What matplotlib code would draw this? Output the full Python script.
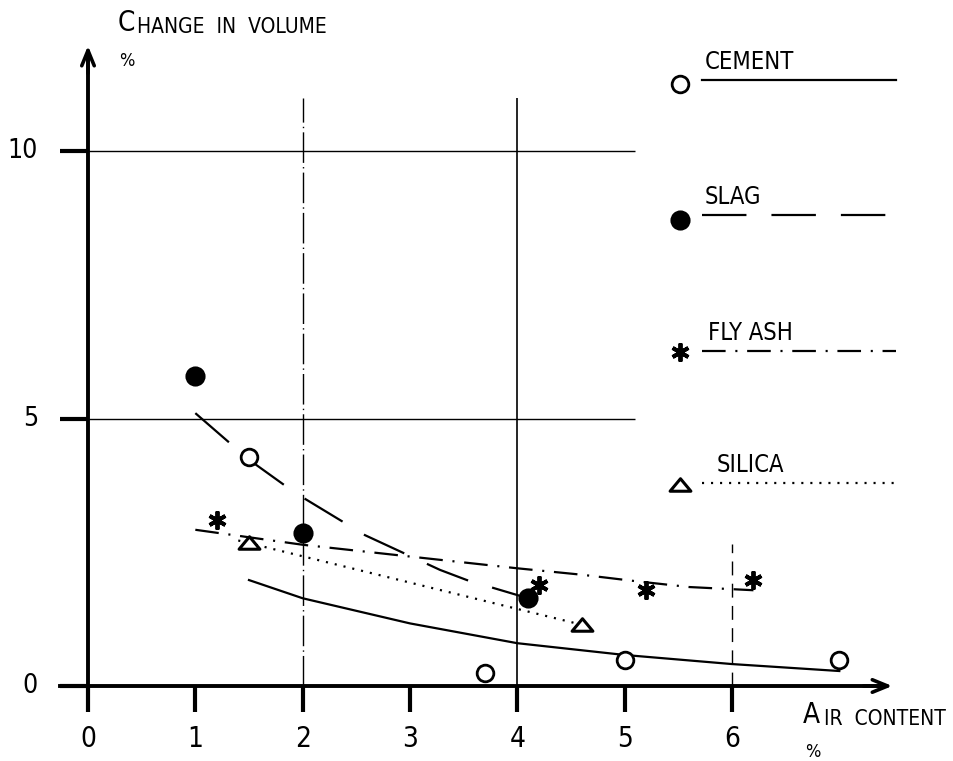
import matplotlib
matplotlib.use("Agg")
import matplotlib.pyplot as plt
from matplotlib.lines import Line2D
from matplotlib.path import Path

plt.rcParams["font.family"] = ["DejaVu Sans"]
plt.rcParams["font.stretch"] = "condensed"
plt.rcParams["font.weight"] = "light"
plt.rcParams["lines.scale_dashes"] = False

# measured samples
cement_x = [1.5, 3.7, 5.0, 7.0]
cement_y = [4.28, 0.24, 0.49, 0.49]
slag_x = [1.0, 2.0, 4.1]
slag_y = [5.79, 2.86, 1.64]
flyash_x = [1.2, 4.2, 5.2, 6.2]
flyash_y = [3.10, 1.89, 1.79, 1.98]
silica_x = [1.5, 4.6]
silica_y = [2.67, 1.14]

# hand-fitted trend lines
cement_fit_x = [1.5, 2.0, 3.0, 4.0, 5.0, 6.0, 7.0]
cement_fit_y = [1.98, 1.64, 1.17, 0.80, 0.58, 0.41, 0.28]
slag_fit_x = [1.0, 1.5, 1.93, 2.58, 3.28, 3.53, 4.1]
slag_fit_y = [5.10, 4.23, 3.61, 2.82, 2.17, 1.98, 1.64]
flyash_fit_x = [1.0, 2.0, 4.0, 4.6, 5.1, 5.6, 6.2]
flyash_fit_y = [2.92, 2.64, 2.20, 2.08, 1.96, 1.85, 1.79]
silica_fit_x = [1.4, 4.55]
silica_fit_y = [2.72, 1.17]

series_names = ["CEMENT", "SLAG", "FLY ASH", "SILICA"]
x_ticks = [0, 1, 2, 3, 4, 5, 6]
y_ticks = [0, 5, 10]

W, H = 954, 761
PX_X = 107.33   # pixels per % air
PX_Y = 53.5     # pixels per % volume
X0, Y0 = 88, 686

# flattened triangle marker, centred on the point
tri = Path([(-1.0, -0.55), (1.0, -0.55), (0.0, 0.65), (-1.0, -0.55)],
           [Path.MOVETO, Path.LINETO, Path.LINETO, Path.CLOSEPOLY])

styles = [
    dict(marker="o", mfc="white", ms=12, mew=2.0, ls="-"),
    dict(marker="o", mfc="black", ms=13, mew=1.5, ls=(0, (32, 18))),
    dict(marker=(6, 2, 0), mfc="black", ms=13, mew=2.8, ls=(0, (17, 7, 1.5, 7))),
    dict(marker=tri, mfc="white", ms=15, mew=2.2, ls=(0, (1.5, 5))),
]

fig = plt.figure(figsize=(W / 100, H / 100), dpi=100)
ax = fig.add_axes([0, 0, 1, 1])
ax.set_xlim(-X0 / PX_X, (W - X0) / PX_X)
ax.set_ylim(-(H - Y0) / PX_Y, Y0 / PX_Y)

# axes as arrows through the origin
for side in ["top", "right"]:
    ax.spines[side].set_visible(False)
ax.spines["left"].set_position(("data", 0))
ax.spines["bottom"].set_position(("data", 0))
ax.spines["left"].set_bounds(0, 11.8)
ax.spines["bottom"].set_bounds(-0.26, 7.4)
for side in ["left", "bottom"]:
    ax.spines[side].set_linewidth(2.8)
ax.annotate("", xy=(7.52, 0), xytext=(7.2, 0),
            arrowprops=dict(arrowstyle="->,head_length=1.1,head_width=0.45",
                            lw=2.6, color="black"))
ax.annotate("", xy=(0, 12.02), xytext=(0, 11.4),
            arrowprops=dict(arrowstyle="->,head_length=1.1,head_width=0.45",
                            lw=2.6, color="black"))

ax.set_xticks(x_ticks)
ax.set_yticks(y_ticks)
ax.set_xticklabels([str(t) for t in x_ticks], fontsize=20)
ax.set_yticklabels([str(t) for t in y_ticks], fontsize=19)
ax.tick_params(axis="x", direction="out", length=19, width=3, pad=9)
ax.tick_params(axis="y", direction="out", length=20, width=3, pad=16)
for lbl in ax.get_yticklabels():
    lbl.set_verticalalignment("center")

# reference lines
ax.hlines([5, 10], -0.26, 5.1, color="black", lw=1.0)
ax.vlines(2, 0, 11.0, color="black", lw=1.0, linestyles=[(0, (22, 3, 1, 3))])
ax.vlines(4, 0, 11.0, color="black", lw=1.2)
ax.vlines(6, 0, 2.65, color="black", lw=1.0, linestyles=[(0, (10, 6))])

# trend lines and samples
fits = [(cement_fit_x, cement_fit_y), (slag_fit_x, slag_fit_y),
        (flyash_fit_x, flyash_fit_y), (silica_fit_x, silica_fit_y)]
points = [(cement_x, cement_y), (slag_x, slag_y),
          (flyash_x, flyash_y), (silica_x, silica_y)]
for (fx, fy), (px, py), st in zip(fits, points, styles):
    ax.plot(fx, fy, color="black", lw=1.6, ls=st["ls"])
    ax.plot(px, py, ls="none", marker=st["marker"], ms=st["ms"],
            mfc=st["mfc"], mec="black", mew=st["mew"], zorder=5)


def fx(px):
    return px / W


def fy(py):
    return 1 - py / H


# legend on the right: marker, name above its line
legend_rows = [(84, 80, 705, 702), (220, 215, 705, 702),
               (352, 351, 708, 702), (485, 483, 717, 702)]
for name, st, (my, ly, tx, lx) in zip(series_names, styles, legend_rows):
    ax.plot([fx(680)], [fy(my)], transform=ax.transAxes, ls="none",
            marker=st["marker"], ms=st["ms"], mfc=st["mfc"], mec="black",
            mew=st["mew"], clip_on=False)
    ax.add_line(Line2D([fx(lx), fx(896)], [fy(ly), fy(ly)],
                       transform=ax.transAxes, color="black", lw=1.6,
                       ls=st["ls"]))
    ax.text(fx(tx), fy(ly - 6), name, transform=ax.transAxes, fontsize=17,
            ha="left", va="bottom")

# axis titles in small capitals
t = ax.text(fx(118), fy(31), "C", transform=ax.transAxes, fontsize=20,
            ha="left", va="baseline")
ax.annotate("HANGE  IN  VOLUME", xy=(1.1, 0), xycoords=t, fontsize=15,
            ha="left", va="bottom")
ax.text(fx(119), fy(66), "%", transform=ax.transAxes, fontsize=13,
        ha="left", va="baseline")

t = ax.text(fx(803), fy(723), "A", transform=ax.transAxes, fontsize=20,
            ha="left", va="baseline")
ax.annotate("IR  CONTENT", xy=(1.2, 0), xycoords=t, fontsize=15,
            ha="left", va="bottom")
ax.text(fx(805), fy(757), "%", transform=ax.transAxes, fontsize=13,
        ha="left", va="baseline")

fig.savefig("out.png", dpi=100)
